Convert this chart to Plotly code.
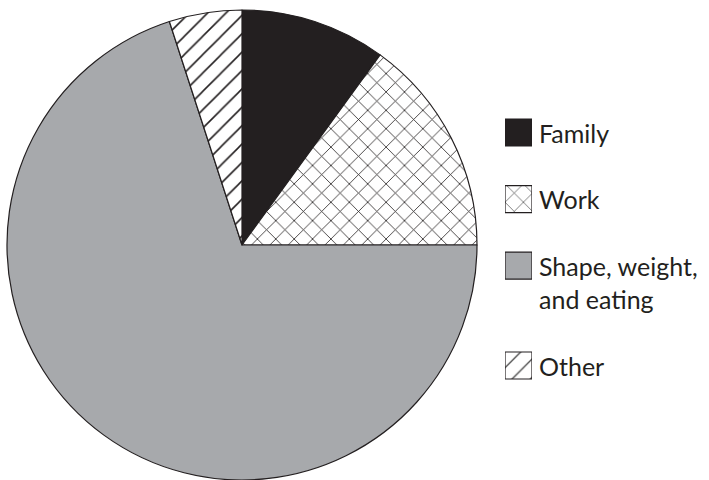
import plotly.graph_objects as go

# Share of concerns
categories = ["Family", "Work", "Shape, weight,<br>and eating", "Other"]
values = [10, 15, 70, 5]

INK = "#231f20"
GRAY = "#a7a9ac"
W, H = 709, 480

fills = [INK, "white", GRAY, "white"]
shapes = ["", "x", "", "/"]

fig = go.Figure()

fig.add_trace(go.Pie(
    labels=categories,
    values=values,
    sort=False,
    direction="clockwise",
    rotation=0,
    textinfo="none",
    hoverinfo="label+percent",
    marker=dict(colors=fills,
                pattern=dict(shape=shapes, fgcolor=INK, fgopacity=1, size=13,
                             solidity=0.12, fillmode="overlay"),
                line=dict(color=INK, width=1.2)),
    domain=dict(x=[7 / W, 477 / W], y=[0, 470 / H]),
    showlegend=False,
))

# Key: one swatch per category, rows spaced by label line count plus a gap line
line_counts = [len(c.split("<br>")) for c in categories]
rows = []
r = 0
for n in line_counts:
    rows.append(r)
    r += n + 1

fig.add_trace(go.Bar(
    x=[1] * len(categories),
    y=rows,
    orientation="h",
    width=0.81,
    marker=dict(color=fills,
                pattern=dict(shape=shapes, fgcolor=INK, fgopacity=1, size=13,
                             solidity=0.1, fillmode="overlay"),
                line=dict(color=INK, width=1.2)),
    xaxis="x2", yaxis="y2",
    hoverinfo="skip",
    showlegend=False,
))

unit = (365.5 - 132.5) / 7
top_row = -132.5 / unit
bottom_row = (H - 132.5) / unit

annotations = []
for cat, row in zip(categories, rows):
    for i, line in enumerate(cat.split("<br>")):
        annotations.append(dict(
            text=line, x=1, y=row + i, xref="x2", yref="y2",
            xanchor="left", yanchor="middle", xshift=5, showarrow=False,
            font=dict(family="Lato", size=25, color=INK),
        ))

fig.update_layout(
    width=W, height=H,
    margin=dict(l=0, r=0, t=0, b=0),
    paper_bgcolor="white",
    plot_bgcolor="white",
    xaxis2=dict(domain=[505 / W, 532 / W], range=[0, 1], visible=False, fixedrange=True),
    yaxis2=dict(domain=[0, 1], range=[bottom_row, top_row], visible=False,
                fixedrange=True, anchor="x2"),
    annotations=annotations,
)

fig.write_html("out.html")
